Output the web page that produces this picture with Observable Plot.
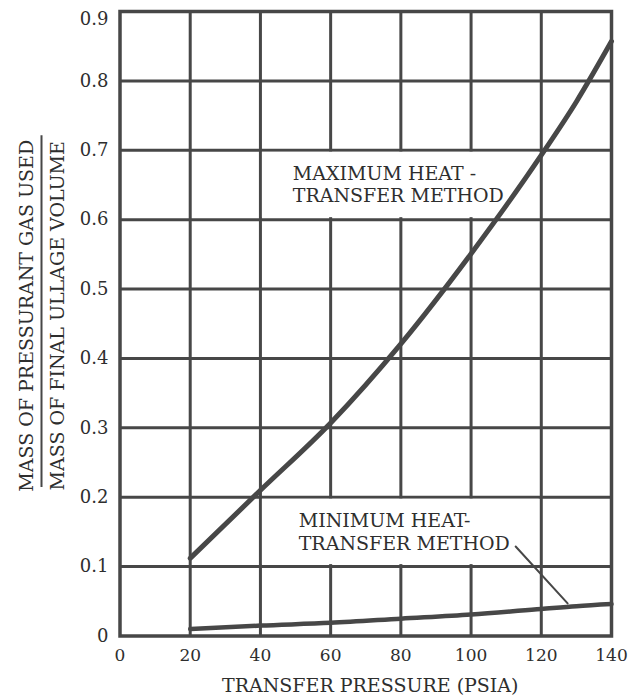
<!DOCTYPE html>
<html>
<head>
<meta charset="utf-8">
<script src="https://cdn.jsdelivr.net/npm/d3@7"></script>
<script src="https://cdn.jsdelivr.net/npm/@observablehq/plot@0.6"></script>
<style>
  body { margin: 0; background: #fff; }
  #chart svg { display: block; }
</style>
</head>
<body>
<div id="chart"></div>
<script>
// Transfer pressure (psia) and pressurant mass ratio for the two methods
const pressure = [20, 40, 60, 80, 100, 120, 130, 140];
const maxHeatTransfer = [0.112, 0.210, 0.307, 0.421, 0.551, 0.693, 0.770, 0.857];
const minHeatTransfer = [0.010, 0.015, 0.019, 0.025, 0.031, 0.039, 0.043, 0.046];

// Axis ticks and labels
const xTicks = [0, 20, 40, 60, 80, 100, 120, 140];
const yTicks = [0, 0.1, 0.2, 0.3, 0.4, 0.5, 0.6, 0.7, 0.8, 0.9];
const yTickLabels = ["0", "0.1", "0.2", "0.3", "0.4", "0.5", "0.6", "0.7", "0.8", "0.9"];

const xTitle = "TRANSFER PRESSURE (PSIA)";
const yTitleTop = "MASS OF PRESSURANT GAS USED";
const yTitleBottom = "MASS OF FINAL ULLAGE VOLUME";

// Curve annotations: grid cell blanked behind each label, label anchor, leader line
const maxLabel = {text: "MAXIMUM HEAT -\nTRANSFER METHOD", x: 49.2, y: 0.68};
const minLabel = {text: "MINIMUM HEAT-\nTRANSFER METHOD", x: 50.9, y: 0.18};
const labelCells = [
  {x1: 40, x2: 120, y1: 0.6, y2: 0.7},
  {x1: 40, x2: 120, y1: 0.1, y2: 0.2}
];
const minLeader = [{x: 112.7, y: 0.129}, {x: 127.5, y: 0.047}];

const maxData = pressure.map((p, i) => ({p, v: maxHeatTransfer[i]}));
const minData = pressure.map((p, i) => ({p, v: minHeatTransfer[i]}));

const ink = "#474747";
const textInk = "#2e2e2e";

const chart = Plot.plot({
  width: 631,
  height: 700,
  marginTop: 11,
  marginRight: 20,
  marginBottom: 64.5,
  marginLeft: 119.5,
  style: {fontFamily: "'DejaVu Serif', serif", background: "#fff", color: textInk},
  x: {domain: [0, 140], axis: null},
  y: {domain: [0, 0.9], axis: null},
  marks: [
    // grid
    Plot.ruleX(xTicks.slice(1, -1), {stroke: ink, strokeWidth: 3}),
    Plot.ruleY(yTicks.slice(1, -1), {stroke: ink, strokeWidth: 3}),
    // blanked cells behind the labels
    Plot.rect(labelCells, {x1: "x1", x2: "x2", y1: "y1", y2: "y2", fill: "#fff", inset: 2}),
    // curves
    Plot.line(maxData, {x: "p", y: "v", curve: "monotone-x", stroke: ink, strokeWidth: 5, strokeLinecap: "round"}),
    Plot.line(minData, {x: "p", y: "v", curve: "monotone-x", stroke: ink, strokeWidth: 4.5, strokeLinecap: "round"}),
    Plot.line(minLeader, {x: "x", y: "y", stroke: ink, strokeWidth: 2}),
    // frame
    Plot.frame({stroke: ink, strokeWidth: 3.5}),
    // curve labels
    Plot.text([maxLabel], {x: "x", y: "y", text: "text", textAnchor: "start", lineAnchor: "top", lineHeight: 1.16, fontSize: 19, fill: textInk}),
    Plot.text([minLabel], {x: "x", y: "y", text: "text", textAnchor: "start", lineAnchor: "top", lineHeight: 1.2, fontSize: 19, fill: textInk}),
    // tick labels
    Plot.text(yTicks.slice(0, -1), {x: 0, y: d => d, text: (d, i) => yTickLabels[i], textAnchor: "end", dx: -11.5, fontSize: 18, fill: textInk}),
    Plot.text(yTicks.slice(-1), {x: 0, y: d => d, text: () => yTickLabels[yTickLabels.length - 1], textAnchor: "end", dx: -11.5, dy: 8, fontSize: 18, fill: textInk}),
    Plot.text(xTicks, {x: d => d, y: 0, text: d => String(d), dy: 19.5, fontSize: 17, fill: textInk}),
    // axis titles
    Plot.text([xTitle], {frameAnchor: "bottom", dx: 4.5, dy: 56, fontSize: 19, fill: textInk}),
    Plot.text([yTitleTop], {frameAnchor: "left", textAnchor: "middle", rotate: -90, dx: -93, dy: -8, fontSize: 19, fill: textInk}),
    Plot.text([yTitleBottom], {frameAnchor: "left", textAnchor: "middle", rotate: -90, dx: -62, dy: -8, fontSize: 19, fill: textInk}),
    Plot.ruleX([0], {y1: 0.214, y2: 0.721, dx: -78.5, stroke: ink, strokeWidth: 2})
  ]
});

document.getElementById("chart").appendChild(chart);
</script>
</body>
</html>
